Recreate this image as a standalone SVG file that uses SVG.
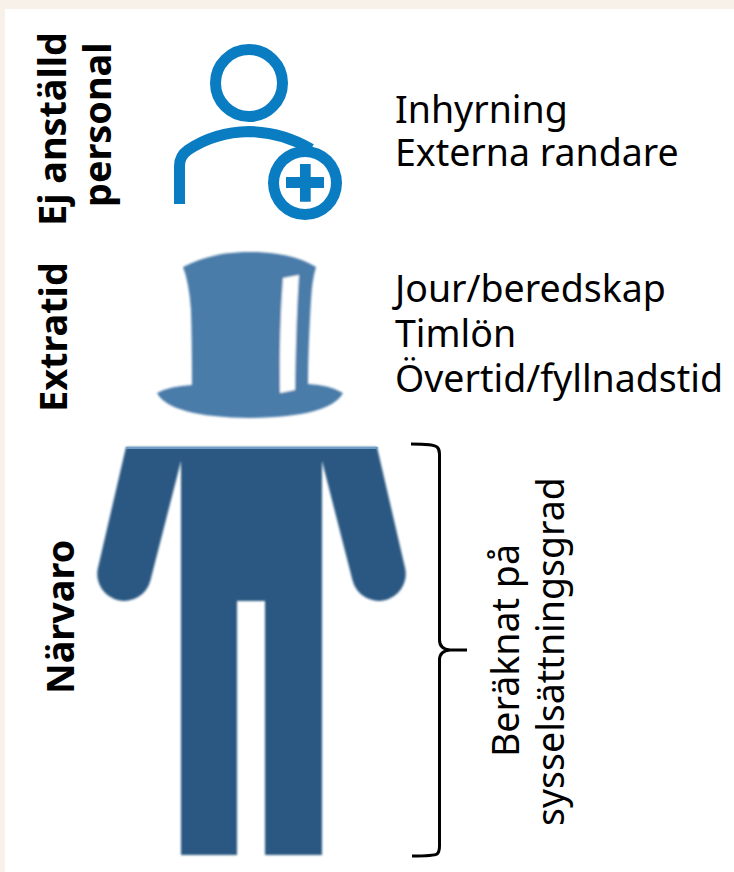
<svg xmlns="http://www.w3.org/2000/svg" width="734" height="872" viewBox="0 0 734 872">
<defs><filter id="soft" x="-5%" y="-5%" width="110%" height="110%"><feGaussianBlur stdDeviation="0.9"/></filter></defs>
<style>
text{font-family:"Noto Sans","Open Sans",sans-serif;fill:#000}
.b{font-weight:700;font-size:37.8px}
.r{font-size:37.5px}
.i{fill:none;stroke:#0a7cc1;stroke-width:11}
</style>
<rect width="734" height="872" fill="#f8f1ea"/>
<rect x="5" y="9" width="729" height="863" fill="#fff"/>
<g id="icon-person">
<circle class="i" cx="249" cy="83" r="33.500"/>
<path class="i" d="M179.500 204V166Q179.500 156 188 150Q215 132 249 131.500Q282 132 311 149"/>
<circle cx="305" cy="183" r="37" fill="#0a7cc1"/>
<circle cx="305" cy="183" r="26" fill="#fff"/>
<path d="M300 164h10.700v13h13.300v11h-13.300v13.700h-10.700v-13.700h-14v-11h14z" fill="#0a7cc1"/>
</g>
<g id="icon-hat" filter="url(#soft)">
<path d="M183 267C205 256 225 252 250 252C275 252 298 256 316 267Q312 280 311 300Q308 350 308 384Q330 385 343 393Q330 417 250 418Q170 417 157 393Q170 386 192 385Q192 340 191 310Q189 282 183 267Z" fill="#4a7ba9"/>
<path d="M283 278L299 275Q296 320 295 390L280 393Q279 330 283 278Z" fill="#fff"/>
</g>
<g id="icon-body">
<g filter="url(#soft)">
<path d="M126 447H377L405.300 569A27 27 0 0 1 352.700 581L322 461V855H265V601H237V855H181V461L150.300 581A27 27 0 0 1 97.700 569Z" fill="#2c5882"/>
</g>
<rect x="126" y="447" width="252" height="2" fill="#6d9ec9"/>
</g>
<g id="brace">
<path d="M411 444Q434 444 437 447Q439.500 449 439.500 454V640Q439.500 649 450 650L467 650M450 650Q439.500 651 439.500 660V846Q439.500 852 437 854Q434 856 412 856" fill="none" stroke="#000" stroke-width="3"/>
</g>
<g id="labels">
<text class="b" transform="translate(66 226) rotate(-90)">Ej anställd</text>
<text class="b" transform="translate(111 207) rotate(-90)">personal</text>
<text class="b" transform="translate(67 412) rotate(-90)">Extratid</text>
<text class="b" transform="translate(74 694) rotate(-90)">Närvaro</text>
<text class="r" x="395" y="123">Inhyrning</text>
<text class="r" x="395" y="166">Externa randare</text>
<text class="r" x="395" y="302">Jour/beredskap</text>
<text class="r" x="395" y="347">Timlön</text>
<text class="r" x="395" y="392">Övertid/fyllnadstid</text>
<text class="r" transform="translate(519 757) rotate(-90)">Beräknat på</text>
<text class="r" transform="translate(564 826) rotate(-90)">sysselsättningsgrad</text>
</g>
</svg>
